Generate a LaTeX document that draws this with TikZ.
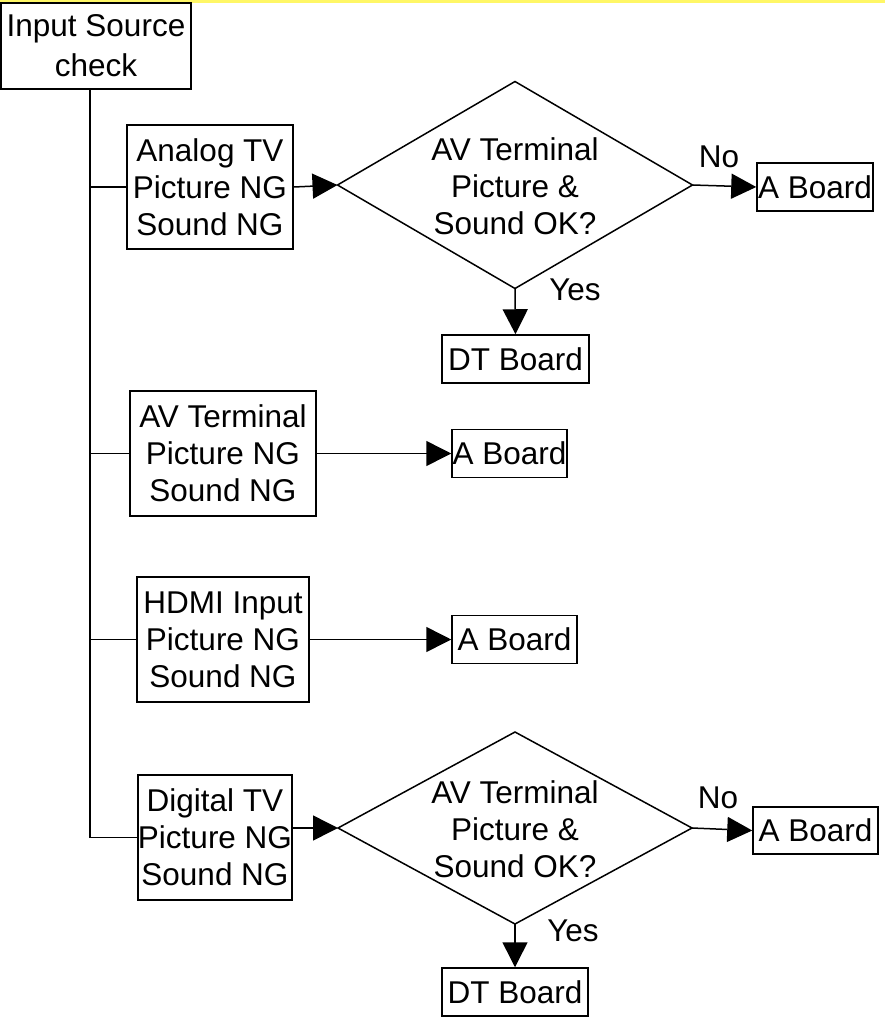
\documentclass[tikz,border=0pt]{standalone}
\usepackage{fontspec}
\setmainfont{Liberation Sans}
\usetikzlibrary{shapes.geometric,arrows.meta}
\begin{document}
\begin{tikzpicture}[x=1pt,y=-1pt,
  font=\fontsize{31.5}{37}\selectfont,
  box/.style={draw,line width=1.5pt,inner sep=0pt,align=center,minimum width=#1},
  dec/.style={draw,diamond,line width=1.5pt,inner sep=0pt,outer sep=0pt},
  dtext/.style={inner sep=0pt,align=center},
  conn/.style={line width=1.5pt},
  arr/.style={line width=1.5pt,-{Triangle[length=25pt,width=25pt]}},
  lbl/.style={inner sep=0pt}]
\useasboundingbox (0,0) rectangle (885,1023);
\fill[yellow!60] (0,0) rectangle (885,3);
% start
\node[box=190pt,minimum height=86pt,font=\fontsize{31.5}{40}\selectfont] (in) at (96,46) {Input Source\\check};
\coordinate (trunk) at (90,89);
% analog
\node[box=166pt,minimum height=124pt] (a1) at (210,187) {Analog TV\\Picture NG\\Sound NG};
\node[dec,minimum width=355pt,minimum height=207pt] (d1) at (515,185) {};
\node[dtext] (d1t) at (515,186) {AV Terminal\\Picture \&\\Sound OK?};
\node[box=116pt,minimum height=48pt] (ab1) at (815,187) {A Board};
\node[box=147pt,minimum height=48pt] (dt1) at (515.5,359) {DT Board};
% av
\node[box=186pt,minimum height=125pt] (av) at (223,453.5) {AV Terminal\\Picture NG\\Sound NG};
\node[box=115pt,minimum height=48pt] (ab2) at (509.5,453.5) {A Board};
% hdmi
\node[box=172pt,minimum height=125pt] (hd) at (223,639.5) {HDMI Input\\Picture NG\\Sound NG};
\node[box=125pt,minimum height=48pt] (ab3) at (514.5,639.5) {A Board};
% digital
\node[box=154pt,minimum height=125pt] (dg) at (215,837.5) {Digital TV\\Picture NG\\Sound NG};
\node[dec,minimum width=354pt,minimum height=192pt] (d2) at (515,828) {};
\node[dtext] (d2t) at (515,829) {AV Terminal\\Picture \&\\Sound OK?};
\node[box=125pt,minimum height=47pt] (ab4) at (815.5,830.5) {A Board};
\node[box=146pt,minimum height=48pt] (dt2) at (515,992) {DT Board};
% labels
\node[lbl] (no1) at (719,157) {No};
\node[lbl] (yes1) at (575,290) {Yes};
\node[lbl] (no2) at (718,798) {No};
\node[lbl] (yes2) at (573,931) {Yes};
% connectors
\draw[conn] (trunk) |- (dg.west);
\draw[conn] (a1.west -| trunk) -- (a1.west);
\draw[conn] (av.west -| trunk) -- (av.west);
\draw[conn] (hd.west -| trunk) -- (hd.west);
\draw[arr] (a1.east) -- (d1.west);
\draw[arr] (d1.east) -- (ab1.west);
\draw[arr] (d1.south) -- (dt1.north);
\draw[arr] (av.east) -- (ab2.west);
\draw[arr] (hd.east) -- (ab3.west);
\draw[arr] (dg.east |- d2.west) -- (d2.west);
\draw[arr] (d2.east) -- (ab4.west);
\draw[arr] (d2.south) -- (dt2.north);
\end{tikzpicture}
\end{document}
